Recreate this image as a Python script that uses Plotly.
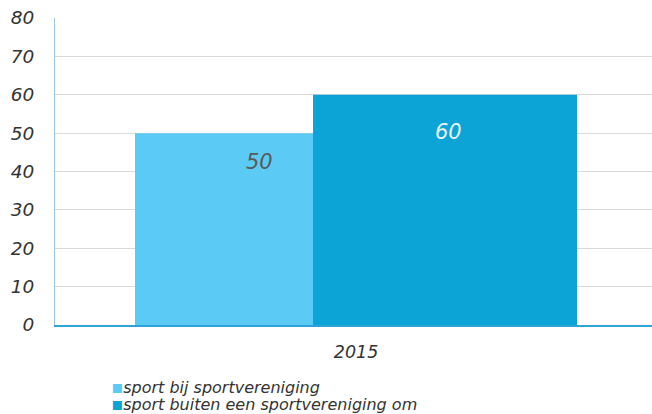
import plotly.graph_objects as go

categories = ["2015"]
series_names = ["sport bij sportvereniging", "sport buiten een sportvereniging om"]
series_values = [[50], [60]]
colors = ["#5BCBF5", "#0CA3D6"]
label_colors = ["#595959", "#EAF6FC"]
y_ticks = [0, 10, 20, 30, 40, 50, 60, 70, 80]

FONT = "DejaVu Sans"
x_pos = [0]
bar_width = 0.4422
offsets = [-0.3702, -0.0720]
label_xshift = [-7, 3]
label_yshift = [-29, -37]

fig = go.Figure()
for i, name in enumerate(series_names):
    fig.add_trace(go.Bar(
        x=x_pos, y=series_values[i], name=name,
        marker=dict(color=colors[i], line=dict(width=0)),
        width=bar_width, offset=offsets[i],
        hoverinfo="skip", showlegend=False,
    ))
    for xi, v in zip(x_pos, series_values[i]):
        fig.add_annotation(
            x=xi + offsets[i] + bar_width / 2, y=v, text=f"<i>{v}</i>",
            showarrow=False, xshift=label_xshift[i], yshift=label_yshift[i],
            font=dict(family=FONT, size=21, color=label_colors[i]),
        )

# legend drawn as text entries below the plot
for i, name in enumerate(series_names):
    fig.add_annotation(
        xref="paper", yref="paper", x=0.0905, y=-0.1987 - i * 0.0586,
        xanchor="left", yanchor="middle", showarrow=False,
        text=(f'<span style="color:{colors[i]};font-size:18px">▪</span>'
              f'<i>{name}</i>'),
        font=dict(family=FONT, size=16, color="#333333"),
    )

fig.update_layout(
    barmode="overlay",
    width=652, height=414,
    margin=dict(l=55, r=0, t=18, b=89, autoexpand=False),
    paper_bgcolor="white", plot_bgcolor="white",
    font=dict(family=FONT, color="#404040"),
    showlegend=False,
    xaxis=dict(
        range=[-0.5042, 0.4958],
        tickmode="array", tickvals=x_pos,
        ticktext=[f"<i>{c}</i>" for c in categories],
        showgrid=False, zeroline=False,
        showline=True, linecolor="#2DA3D8", linewidth=2,
        ticks="", tickfont=dict(family=FONT, size=17.5, color="#333333"),
        ticklabelstandoff=10, automargin=False,
    ),
    yaxis=dict(
        range=[0, 80], tickmode="array", tickvals=y_ticks,
        ticktext=[f"<i>{t}</i>" for t in y_ticks],
        showgrid=True, gridcolor="#D9D9D9", gridwidth=1,
        zeroline=False, showline=True, linecolor="#9CC3E6", linewidth=1,
        ticks="", tickfont=dict(family=FONT, size=18.5, color="#333333"),
        ticklabelstandoff=16, automargin=False,
    ),
)

fig.write_html("out.html", config={"displayModeBar": False},
               post_script="document.body.style.margin='0';")
